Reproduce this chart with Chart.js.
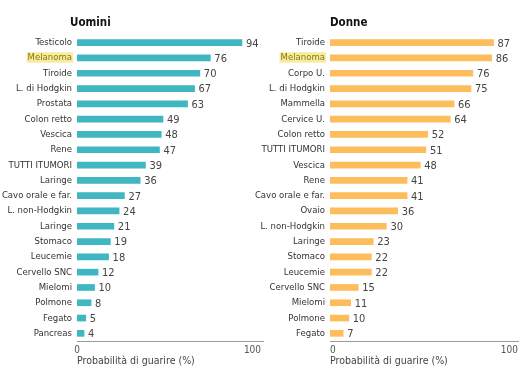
<!DOCTYPE html>
<html>
<head>
<meta charset="utf-8">
<script src="https://cdn.jsdelivr.net/npm/chart.js@4/dist/chart.umd.min.js"></script>
<style>
  body { margin: 0; background: #fff; }
  #wrap { position: relative; width: 521px; height: 368px; overflow: hidden; }
  .panel { position: absolute; top: 0; height: 368px; }
  #men { left: 0; width: 265px; }
  #women { left: 255px; width: 266px; }
  .head {
    position: absolute; top: 15px;
    font: bold 11.5px "DejaVu Sans Condensed", "Liberation Sans Narrow", sans-serif;
    color: #111;
  }
</style>
</head>
<body>
<div id="wrap">
  <div class="panel" id="men"><canvas id="menChart"></canvas></div>
  <div class="panel" id="women"><canvas id="womenChart"></canvas></div>
  <div class="head" style="left:70px">Uomini</div>
  <div class="head" style="left:330px">Donne</div>
</div>
<script>
const menLabels = ["Testicolo", "Melanoma", "Tiroide", "L. di Hodgkin", "Prostata",
  "Colon retto", "Vescica", "Rene", "TUTTI ITUMORI", "Laringe", "Cavo orale e far.",
  "L. non-Hodgkin", "Laringe", "Stomaco", "Leucemie", "Cervello SNC", "Mielomi",
  "Polmone", "Fegato", "Pancreas"];
const menValues = [94, 76, 70, 67, 63, 49, 48, 47, 39, 36, 27, 24, 21, 19, 18, 12, 10, 8, 5, 4];

const womenLabels = ["Tiroide", "Melanoma", "Corpo U.", "L. di Hodgkin", "Mammella",
  "Cervice U.", "Colon retto", "TUTTI ITUMORI", "Vescica", "Rene", "Cavo orale e far.",
  "Ovaio", "L. non-Hodgkin", "Laringe", "Stomaco", "Leucemie", "Cervello SNC",
  "Mielomi", "Polmone", "Fegato"];
const womenValues = [87, 86, 76, 75, 66, 64, 52, 51, 48, 41, 41, 36, 30, 23, 22, 22, 15, 11, 10, 7];

const xTicks = [0, 100];
const axisTitle = "Probabilità di guarire (%)";
const highlighted = "Melanoma";

const fontFamily = '"DejaVu Sans Condensed", "Liberation Sans Narrow", sans-serif';

// numbers at the end of each bar
const valueLabels = {
  id: "valueLabels",
  afterDatasetsDraw(chart) {
    const ctx = chart.ctx;
    const values = chart.data.datasets[0].data;
    ctx.save();
    ctx.font = "11px " + fontFamily;
    ctx.fillStyle = "#444";
    ctx.textBaseline = "middle";
    chart.getDatasetMeta(0).data.forEach((bar, i) => {
      ctx.fillText(values[i], bar.x + 4, bar.y + 1);
    });
    ctx.restore();
  },
};

function createBarChart(targetId, labels, values, color, opts) {
  const chartConfig = {
    type: "bar",
    data: {
      labels: labels,
      datasets: [{
        data: values,
        backgroundColor: color,
        barThickness: 6,
      }],
    },
    options: {
      indexAxis: "y",
      responsive: true,
      maintainAspectRatio: false,
      animation: false,
      layout: { padding: { top: 35, right: opts.padRight, left: 0, bottom: 0 } },
      plugins: { legend: { display: false }, tooltip: { enabled: false } },
      scales: {
        x: {
          min: 0,
          max: opts.max,
          grid: { display: false, drawTicks: false },
          border: { display: true, color: "#9a9a9a", width: 1 },
          afterBuildTicks: (scale) => {
            scale.ticks = xTicks.map((v) => ({ value: v }));
          },
          afterFit: (scale) => { scale.height = 27; },
          ticks: {
            padding: 3,
            align: opts.tickAlign,
            color: "#555",
            font: { family: fontFamily, size: 10 },
          },
          title: {
            display: true,
            text: axisTitle,
            align: "start",
            color: "#444",
            padding: { top: 0, bottom: 0 },
            font: { family: fontFamily, size: 10.5 },
          },
        },
        y: {
          grid: { display: false, drawTicks: false },
          border: { display: false },
          afterFit: (scale) => { scale.width = opts.labelWidth; },
          ticks: {
            padding: 5,
            autoSkip: false,
            font: { family: fontFamily, size: 9.5 },
            color: (c) => (labels[c.index] === highlighted ? "#8a7a18" : "#333"),
            showLabelBackdrop: true,
            backdropPadding: { top: 0, bottom: -1, left: 1, right: 1 },
            backdropColor: (c) => (labels[c.index] === highlighted ? "#f6ec9c" : "rgba(0,0,0,0)"),
          },
        },
      },
    },
    plugins: [valueLabels],
  };
  return new Chart(document.getElementById(targetId), chartConfig);
}

createBarChart("menChart", menLabels, menValues, "#3fb6c1",
  { max: 106, labelWidth: 77, padRight: 2, tickAlign: "center" });
createBarChart("womenChart", womenLabels, womenValues, "#fdbd5c",
  { max: 100, labelWidth: 75, padRight: 1, tickAlign: "inner" });
</script>
</body>
</html>
